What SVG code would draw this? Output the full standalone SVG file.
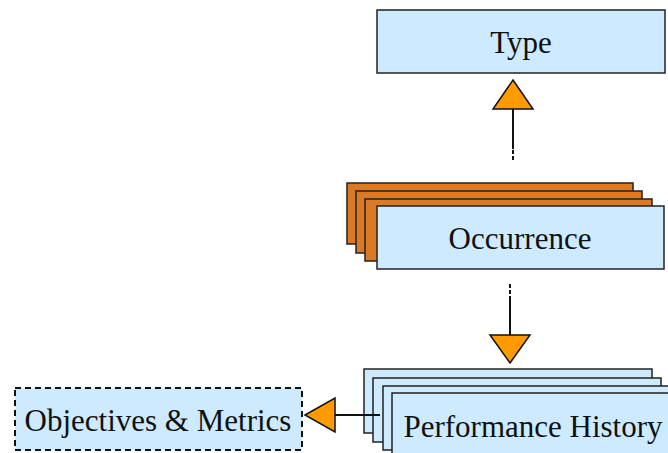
<svg xmlns="http://www.w3.org/2000/svg" width="668" height="453" viewBox="0 0 668 453">
<style>
.box{fill:#cdeaff;stroke:#222;stroke-width:1.5}
.back{fill:#db7a24;stroke:#222;stroke-width:1.5}
.dash{fill:#cdeaff;stroke:#111;stroke-width:2;stroke-dasharray:6 4}
.lbl{font-family:"Liberation Serif","Times New Roman",serif;font-size:31px;fill:#111;text-anchor:middle}
.ln{stroke:#111;stroke-width:2;fill:none}
.head{fill:#ff9a00;stroke:#111;stroke-width:1.5;stroke-linejoin:miter}
</style>
<rect width="668" height="453" fill="#fff"/>
<g id="type">
<rect class="box" x="377" y="10" width="288" height="63"/>
<text class="lbl" x="521" y="53">Type</text>
</g>
<g id="occurrence">
<rect class="back" x="347" y="183" width="286" height="61"/>
<rect class="back" x="356" y="191" width="286" height="62"/>
<rect class="back" x="365" y="199" width="287" height="62"/>
<rect class="box" x="377" y="206" width="287" height="63"/>
<text class="lbl" x="520" y="249">Occurrence</text>
</g>
<g id="performance">
<rect class="box" x="364" y="369" width="288" height="64"/>
<rect class="box" x="373" y="378" width="288" height="64"/>
<rect class="box" x="383" y="386" width="288" height="64"/>
<rect class="box" x="392" y="393" width="288" height="64"/>
<text class="lbl" x="533" y="437">Performance History</text>
</g>
<g id="objectives">
<rect class="dash" x="15" y="388" width="287" height="62"/>
<text class="lbl" x="158" y="431">Objectives &amp; Metrics</text>
</g>
<g id="connectors">
<line class="ln" x1="513" y1="109" x2="513" y2="149"/>
<line class="ln" x1="513" y1="150" x2="513" y2="162" stroke-dasharray="4 2"/>
<polygon class="head" points="513,80 533,109 493,109"/>
<line class="ln" x1="510" y1="284" x2="510" y2="296" stroke-dasharray="4 2"/>
<line class="ln" x1="510" y1="296" x2="510" y2="335"/>
<polygon class="head" points="510,363 530,335 490,335"/>
<line class="ln" x1="335" y1="415" x2="380" y2="415"/>
<polygon class="head" points="305,415 335,398 335,432"/>
</g>
</svg>
